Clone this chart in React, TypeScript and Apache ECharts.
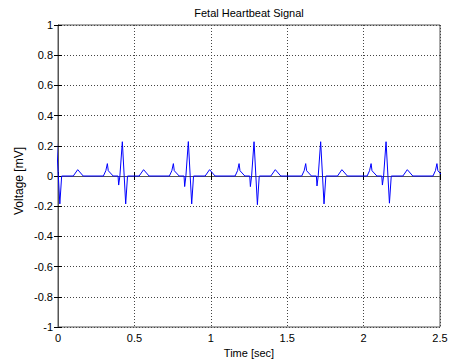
import React, { useEffect, useRef } from "react";
import * as echarts from "echarts";

// Times (s) of the R-peak (upward spike) of each beat
const beatTimes = [-0.01, 0.421, 0.853, 1.283, 1.719, 2.147, 2.578];
// Per-beat spike amplitudes (mV)
const peakValues = [0.227, 0.227, 0.228, 0.227, 0.227, 0.227, 0.227];
const troughValues = [-0.185, -0.185, -0.185, -0.19, -0.185, -0.18, -0.185];
const dipValues = [-0.06, -0.06, -0.07, -0.07, -0.066, -0.06, -0.06];
// Waveform of one beat: time offsets from the R-peak (s) and values (mV)
const templateOffsets = [-0.124, -0.108, -0.098, -0.092, -0.06, -0.028, -0.024, -0.016, 0, 0.022, 0.034, 0.11, 0.139, 0.175];
const templateValues = [0, 0.035, 0.082, 0.035, 0, 0, -0.06, 0, 0.227, -0.185, 0, 0, 0.042, 0];
const DIP_INDEX = 6;
const PEAK_INDEX = 8;
const TROUGH_INDEX = 9;

const xTicks = [0, 0.5, 1, 1.5, 2, 2.5];
const yTicks = [-1, -0.8, -0.6, -0.4, -0.2, 0, 0.2, 0.4, 0.6, 0.8, 1];

const FONT = "'Liberation Sans', Arial, Helvetica, sans-serif";

function buildSignal(): [number, number][] {
  const pts: [number, number][] = [];
  beatTimes.forEach((bt, b) => {
    templateOffsets.forEach((off, i) => {
      let v = templateValues[i];
      if (i === DIP_INDEX) v = dipValues[b];
      if (i === PEAK_INDEX) v = peakValues[b];
      if (i === TROUGH_INDEX) v = troughValues[b];
      pts.push([+(bt + off).toFixed(4), v]);
    });
  });
  return pts;
}

export default function App() {
  const ref = useRef<HTMLDivElement>(null);
  useEffect(() => {
    const chart = echarts.init(ref.current!, null, { renderer: "svg" });
    const axisCol = "#555";
    const fmt = (v: number) => String(parseFloat(v.toFixed(1)));
    chart.setOption({
      animation: false,
      backgroundColor: "#fff",
      textStyle: { fontFamily: FONT },
      grid: {
        left: 58,
        right: 9,
        top: 25,
        bottom: 36,
        show: true,
        borderColor: axisCol,
        borderWidth: 1,
        backgroundColor: "#fff",
        outerBoundsMode: "none",
        containLabel: false,
      },
      graphic: [
        {
          type: "text",
          x: 249,
          y: 13,
          style: {
            text: "Fetal Heartbeat Signal",
            textAlign: "center",
            textVerticalAlign: "middle",
            font: `11px ${FONT}`,
            fill: "#000",
          },
        },
        {
          type: "text",
          x: 19,
          y: 181,
          rotation: Math.PI / 2,
          style: {
            text: "Voltage [mV]",
            textAlign: "center",
            textVerticalAlign: "middle",
            font: `12px ${FONT}`,
            fill: "#000",
          },
        },
      ],
      xAxis: [
        {
          type: "value",
          min: xTicks[0],
          max: xTicks[xTicks.length - 1],
          interval: 0.5,
          name: "Time [sec]",
          nameLocation: "middle",
          nameGap: 20,
          nameTextStyle: { fontSize: 11, color: "#000", fontFamily: FONT },
          axisLine: { show: true, lineStyle: { color: axisCol } },
          axisTick: { show: true, inside: true, length: 4, lineStyle: { color: "#000" } },
          axisLabel: { fontSize: 11, color: "#000", margin: 5, fontFamily: FONT, formatter: fmt },
          splitLine: { show: true, lineStyle: { color: "#444", type: [1, 2], width: 1 } },
        },
        {
          type: "value",
          position: "top",
          min: xTicks[0],
          max: xTicks[xTicks.length - 1],
          interval: 0.5,
          axisLine: { show: true, lineStyle: { color: axisCol } },
          axisTick: { show: true, inside: true, length: 4, lineStyle: { color: "#000" } },
          axisLabel: { show: false },
          splitLine: { show: false },
        },
      ],
      yAxis: [
        {
          type: "value",
          min: yTicks[0],
          max: yTicks[yTicks.length - 1],
          interval: 0.2,
          axisLine: { show: true, lineStyle: { color: axisCol } },
          axisTick: { show: true, inside: true, length: 4, lineStyle: { color: "#000" } },
          axisLabel: { fontSize: 11, color: "#000", margin: 5, fontFamily: FONT, formatter: fmt },
          splitLine: { show: true, lineStyle: { color: "#444", type: [1, 2], width: 1 } },
        },
        {
          type: "value",
          position: "right",
          min: yTicks[0],
          max: yTicks[yTicks.length - 1],
          interval: 0.2,
          axisLine: { show: true, lineStyle: { color: axisCol } },
          axisTick: { show: true, inside: true, length: 4, lineStyle: { color: "#000" } },
          axisLabel: { show: false },
          splitLine: { show: false },
        },
      ],
      series: [
        {
          type: "line",
          xAxisIndex: 0,
          yAxisIndex: 0,
          data: buildSignal(),
          showSymbol: false,
          symbol: "none",
          clip: true,
          lineStyle: { color: "#0000ff", width: 1 },
        },
      ],
    });
    return () => chart.dispose();
  }, []);
  return (
    <div
      ref={ref}
      style={{ position: "fixed", left: 0, top: 0, width: 449, height: 363, background: "#fff" }}
    />
  );
}
